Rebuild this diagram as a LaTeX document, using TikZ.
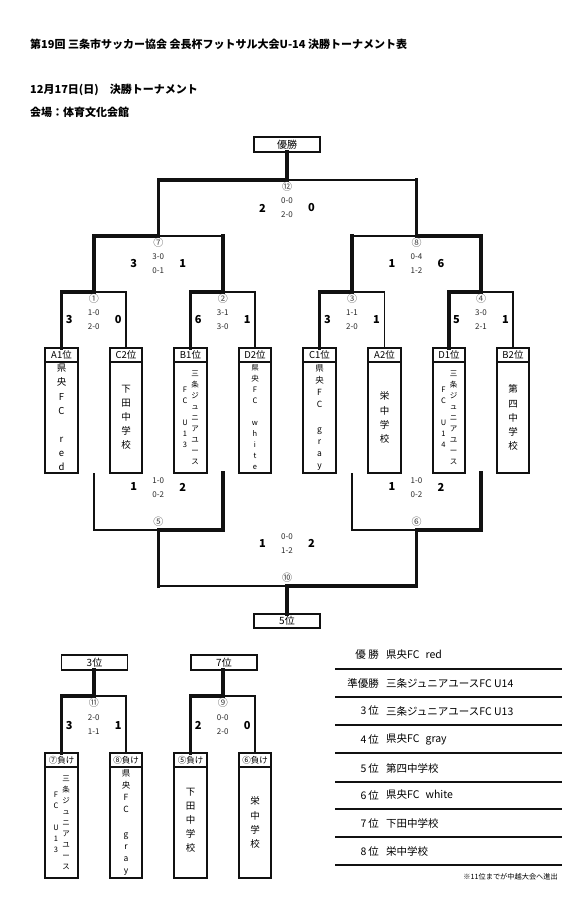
\documentclass[tikz,border=0pt]{standalone}
\usepackage{fontspec}
\usepackage{tikz}
\usetikzlibrary{positioning,calc}
\setmainfont{Noto Sans CJK JP}
\definecolor{ink}{HTML}{111111}
\tikzset{
  winline/.style={draw=ink, line width=3.5pt, line cap=rect},
  loseline/.style={draw=ink, line width=1.8pt},
  rankbox/.style={
    draw=ink,
    line width=1.8pt,
    minimum width=66pt,
    minimum height=14.5pt,
    inner sep=0pt,
    outer sep=0pt,
    font=\fontsize{10}{10}\selectfont
  },
  seedbox/.style={
    draw=ink,
    line width=1.8pt,
    minimum width=32.5pt,
    minimum height=14pt,
    inner sep=0pt,
    outer sep=0pt,
    font=\fontsize{9.5}{10}\selectfont
  },
  loserbox/.style={seedbox, font=\fontsize{8.5}{9}\selectfont},
  teambox/.style={
    draw=ink,
    line width=1.8pt,
    minimum width=32.5pt,
    minimum height=111pt,
    inner sep=0pt,
    outer sep=0pt
  },
  tate/.style={align=center, inner sep=0pt, font=\fontsize{9.5}{14.1}\selectfont},
  tatemid/.style={align=center, inner sep=0pt, font=\fontsize{8.5}{12.2}\selectfont},
  tatesmall/.style={align=center, inner sep=0pt, font=\fontsize{7.5}{11}\selectfont},
  gameno/.style={inner sep=0pt, text=ink!80, font=\fontsize{10}{10}\selectfont},
  sets/.style={align=center, inner sep=0pt, text=ink!90, font=\fontsize{8}{14}\selectfont},
  goals/.style={inner sep=0pt, font=\bfseries\fontsize{11}{11}\selectfont},
  titletext/.style={anchor=west, inner sep=0pt, font=\bfseries\fontsize{11}{11}\selectfont},
  rankcell/.style={anchor=east, inner sep=0pt, font=\fontsize{10.5}{10.5}\selectfont},
  namecell/.style={anchor=west, inner sep=0pt, font=\fontsize{10.5}{10.5}\selectfont},
  tablerule/.style={draw=ink, line width=1.6pt}
}

\begin{document}
\begin{tikzpicture}[x=1pt, y=-1pt]
\fill[white] (0,0) rectangle (575,921);
\useasboundingbox (0,0) rectangle (575,921);

% Headings.
\node[titletext] (title) at (30,44) {第19回 三条市サッカー協会 会長杯フットサル大会U-14 決勝トーナメント表};
\node[titletext] (date) at (30,90) {12月17日(日)　決勝トーナメント};
\node[titletext] (venue) at (30,112) {会場：体育文化会館};

% Final rank boxes.
\node[rankbox, minimum height=15pt] (champ) at (287,144.5) {優勝};
\node[rankbox] (fifth) at (287,621) {5位};
\node[rankbox] (third) at (94.5,662.5) {3位};
\node[rankbox] (seventh) at (224,662.5) {7位};

% Seeded teams, left half.
\node[seedbox] (A1h) at (61.5,355) {A1位};
\node[teambox, below=0pt of A1h] (A1n) {};
\node[tate] (A1t) at (A1n) {県\\央\\F\\C\\~\\r\\e\\d};

\node[seedbox] (C2h) at (126,355) {C2位};
\node[teambox, below=0pt of C2h] (C2n) {};
\node[tate] (C2t) at (C2n) {下\\田\\中\\学\\校};

\node[seedbox] (B1h) at (190.5,355) {B1位};
\node[teambox, below=0pt of B1h] (B1n) {};
\node[tatesmall] (B1t) at ([xshift=4.5pt]B1n.center) {三\\条\\ジ\\ュ\\ニ\\ア\\ユ\\ー\\ス};
\node[tatesmall] (B1u) at ([xshift=-5.5pt]B1n.center) {F\\C\\~\\U\\1\\3};

\node[seedbox] (D2h) at (255,355) {D2位};
\node[teambox, below=0pt of D2h] (D2n) {};
\node[tatesmall] (D2t) at (D2n) {県\\央\\F\\C\\~\\w\\h\\i\\t\\e};

% Seeded teams, right half.
\node[seedbox] (C1h) at (319.5,355) {C1位};
\node[teambox, below=0pt of C1h] (C1n) {};
\node[tatemid] (C1t) at (C1n) {県\\央\\F\\C\\~\\g\\r\\a\\y};

\node[seedbox] (A2h) at (384.5,355) {A2位};
\node[teambox, below=0pt of A2h] (A2n) {};
\node[tate] (A2t) at (A2n) {栄\\中\\学\\校};

\node[seedbox] (D1h) at (449,355) {D1位};
\node[teambox, below=0pt of D1h] (D1n) {};
\node[tatesmall] (D1t) at ([xshift=4.5pt]D1n.center) {三\\条\\ジ\\ュ\\ニ\\ア\\ユ\\ー\\ス};
\node[tatesmall] (D1u) at ([xshift=-5.5pt]D1n.center) {F\\C\\~\\U\\1\\4};

\node[seedbox] (B2h) at (513,355) {B2位};
\node[teambox, below=0pt of B2h] (B2n) {};
\node[tate] (B2t) at (B2n) {第\\四\\中\\学\\校};

% Playoff teams.
\node[loserbox] (L7h) at (61.5,760) {⑦負け};
\node[teambox, below=0pt of L7h] (L7n) {};
\node[tatesmall] (L7t) at ([xshift=4.5pt]L7n.center) {三\\条\\ジ\\ュ\\ニ\\ア\\ユ\\ー\\ス};
\node[tatesmall] (L7u) at ([xshift=-5.5pt]L7n.center) {F\\C\\~\\U\\1\\3};

\node[loserbox] (L8h) at (126,760) {⑧負け};
\node[teambox, below=0pt of L8h] (L8n) {};
\node[tatemid] (L8t) at (L8n) {県\\央\\F\\C\\~\\g\\r\\a\\y};

\node[loserbox] (L5h) at (190.5,760) {⑤負け};
\node[teambox, below=0pt of L5h] (L5n) {};
\node[tate] (L5t) at ([yshift=2pt]L5n.center) {下\\田\\中\\学\\校};

\node[loserbox] (L6h) at (255,760) {⑥負け};
\node[teambox, below=0pt of L6h] (L6n) {};
\node[tate] (L6t) at (L6n) {栄\\中\\学\\校};

% Match points.
\coordinate (m1) at (93.75,292);
\coordinate (m2) at (222.75,292);
\coordinate (m3) at (352,292);
\coordinate (m4) at (481,292);
\coordinate (m7) at (158.25,236);
\coordinate (m8) at (416.5,236);
\coordinate (m12) at (287,180);
\coordinate (l1) at ($(A1n.south)!.5!(C2n.south)$);
\coordinate (l2) at ($(B1n.south)!.5!(D2n.south)$);
\coordinate (l3) at ($(C1n.south)!.5!(A2n.south)$);
\coordinate (l4) at ($(D1n.south)!.5!(B2n.south)$);
\coordinate (m5) at (158.25,530);
\coordinate (m6) at (416.5,530);
\coordinate (m10) at (287,586);
\coordinate (m11) at (93.75,696);
\coordinate (m9) at (222.75,696);

% Main bracket lines.
\draw[winline] (A1h.north) |- (m1);
\draw[loseline] (C2h.north) |- (m1);
\draw[winline] (B1h.north) |- (m2);
\draw[loseline] (D2h.north) |- (m2);
\draw[winline] (C1h.north) |- (m3);
\draw[loseline] (A2h.north) |- (m3);
\draw[winline] (D1h.north) |- (m4);
\draw[loseline] (B2h.north) |- (m4);

\draw[winline] (m1) |- (m7);
\draw[winline] (m2) -- (m2 |- m7);
\draw[loseline] (m2 |- m7) -- (m7);
\draw[winline] (m4) |- (m8);
\draw[winline] (m3) -- (m3 |- m8);
\draw[loseline] (m3 |- m8) -- (m8);

\draw[winline] (m7) |- (m12);
\draw[winline] (m8) -- (m8 |- m12);
\draw[loseline] (m8 |- m12) -- (m12);
\draw[winline] (m12) -- (champ.south);

% Fifth place bracket.
\draw[loseline] (l1) |- (m5);
\draw[winline] (l2) |- (m5);
\draw[loseline] (l3) |- (m6);
\draw[winline] (l4) |- (m6);
\draw[winline] (m5) -- (m5 |- m10);
\draw[loseline] (m5 |- m10) -- (m10);
\draw[winline] (m6) |- (m10);
\draw[winline] (m10) -- (fifth.north);

% Third and seventh place.
\draw[winline] (L7h.north) |- (m11);
\draw[loseline] (L8h.north) |- (m11);
\draw[winline] (m11) -- (m11 |- third.south);
\draw[winline] (L5h.north) |- (m9);
\draw[loseline] (L6h.north) |- (m9);
\draw[winline] (m9) -- (m9 |- seventh.south);

% Match numbers and scores, upper bracket.
\node[gameno] (n1) at ($(m1)+(0,6.5)$) {①};
\node[sets] (s1) at ($(m1)+(0,28)$) {1-0\\2-0};
\node[goals] (g1a) at ($(m1)+(-24.5,27.5)$) {3};
\node[goals] (g1b) at ($(m1)+(24.5,27.5)$) {0};

\node[gameno] (n2) at ($(m2)+(0,6.5)$) {②};
\node[sets] (s2) at ($(m2)+(0,28)$) {3-1\\3-0};
\node[goals] (g2a) at ($(m2)+(-24.5,27.5)$) {6};
\node[goals] (g2b) at ($(m2)+(24.5,27.5)$) {1};

\node[gameno] (n3) at ($(m3)+(0,6.5)$) {③};
\node[sets] (s3) at ($(m3)+(0,28)$) {1-1\\2-0};
\node[goals] (g3a) at ($(m3)+(-24.5,27.5)$) {3};
\node[goals] (g3b) at ($(m3)+(24.5,27.5)$) {1};

\node[gameno] (n4) at ($(m4)+(0,6.5)$) {④};
\node[sets] (s4) at ($(m4)+(0,28)$) {3-0\\2-1};
\node[goals] (g4a) at ($(m4)+(-24.5,27.5)$) {5};
\node[goals] (g4b) at ($(m4)+(24.5,27.5)$) {1};

\node[gameno] (n7) at ($(m7)+(0,7)$) {⑦};
\node[sets] (s7) at ($(m7)+(0,28)$) {3-0\\0-1};
\node[goals] (g7a) at ($(m7)+(-24.5,28)$) {3};
\node[goals] (g7b) at ($(m7)+(24.5,28)$) {1};

\node[gameno] (n8) at ($(m8)+(0,7)$) {⑧};
\node[sets] (s8) at ($(m8)+(0,28)$) {0-4\\1-2};
\node[goals] (g8a) at ($(m8)+(-24.5,28)$) {1};
\node[goals] (g8b) at ($(m8)+(24.5,28)$) {6};

\node[gameno] (n12) at ($(m12)+(0,7)$) {⑫};
\node[sets] (s12) at ($(m12)+(0,27.5)$) {0-0\\2-0};
\node[goals] (g12a) at ($(m12)+(-24.5,28)$) {2};
\node[goals] (g12b) at ($(m12)+(24.5,28)$) {0};

% Match numbers and scores, fifth place bracket.
\node[gameno] (n5) at ($(m5)+(0,-8)$) {⑤};
\node[sets] (s5) at ($(m5)+(0,-42.5)$) {1-0\\0-2};
\node[goals] (g5a) at ($(m5)+(-24.5,-43)$) {1};
\node[goals] (g5b) at ($(m5)+(24.5,-43)$) {2};

\node[gameno] (n6) at ($(m6)+(0,-8)$) {⑥};
\node[sets] (s6) at ($(m6)+(0,-42.5)$) {1-0\\0-2};
\node[goals] (g6a) at ($(m6)+(-24.5,-43)$) {1};
\node[goals] (g6b) at ($(m6)+(24.5,-43)$) {2};

\node[gameno] (n10) at ($(m10)+(0,-8)$) {⑩};
\node[sets] (s10) at ($(m10)+(0,-42)$) {0-0\\1-2};
\node[goals] (g10a) at ($(m10)+(-24.5,-43)$) {1};
\node[goals] (g10b) at ($(m10)+(24.5,-43)$) {2};

% Match numbers and scores, placing games.
\node[gameno] (n11) at ($(m11)+(0,7)$) {⑪};
\node[sets] (s11) at ($(m11)+(0,28.5)$) {2-0\\1-1};
\node[goals] (g11a) at ($(m11)+(-24.5,29)$) {3};
\node[goals] (g11b) at ($(m11)+(24.5,29)$) {1};

\node[gameno] (n9) at ($(m9)+(0,7)$) {⑨};
\node[sets] (s9) at ($(m9)+(0,28.5)$) {0-0\\2-0};
\node[goals] (g9a) at ($(m9)+(-24.5,29)$) {2};
\node[goals] (g9b) at ($(m9)+(24.5,29)$) {0};

% Final standings.
\node[rankcell] (r1) at (379,655) {優 勝};
\node[namecell] (t1) at (386,655) {県央FC\hspace{6pt}red};
\node[rankcell] (r2) at (379,683) {準優勝};
\node[namecell] (t2) at (386,683) {三条ジュニアユースFC U14};
\node[rankcell] (r3) at (379,711) {3\,位};
\node[namecell] (t3) at (386,711) {三条ジュニアユースFC U13};
\node[rankcell] (r4) at (379,739) {4\,位};
\node[namecell] (t4) at (386,739) {県央FC\hspace{6pt}gray};
\node[rankcell] (r5) at (379,768) {5\,位};
\node[namecell] (t5) at (386,768) {第四中学校};
\node[rankcell] (r6) at (379,795) {6\,位};
\node[namecell] (t6) at (386,795) {県央FC\hspace{6pt}white};
\node[rankcell] (r7) at (379,823) {7\,位};
\node[namecell] (t7) at (386,823) {下田中学校};
\node[rankcell] (r8) at (379,851) {8\,位};
\node[namecell] (t8) at (386,851) {栄中学校};

\draw[tablerule] (335,669) -- (562,669);
\draw[tablerule] (335,697) -- (562,697);
\draw[tablerule] (335,725) -- (562,725);
\draw[tablerule] (335,753) -- (562,753);
\draw[tablerule] (335,782) -- (562,782);
\draw[tablerule] (335,809) -- (562,809);
\draw[tablerule] (335,837) -- (562,837);
\draw[tablerule] (335,865) -- (562,865);

\node[anchor=east, inner sep=0pt, font=\fontsize{7.2}{7.2}\selectfont] (note) at (558,877) {※11位までが中越大会へ進出};

\end{tikzpicture}
\end{document}
